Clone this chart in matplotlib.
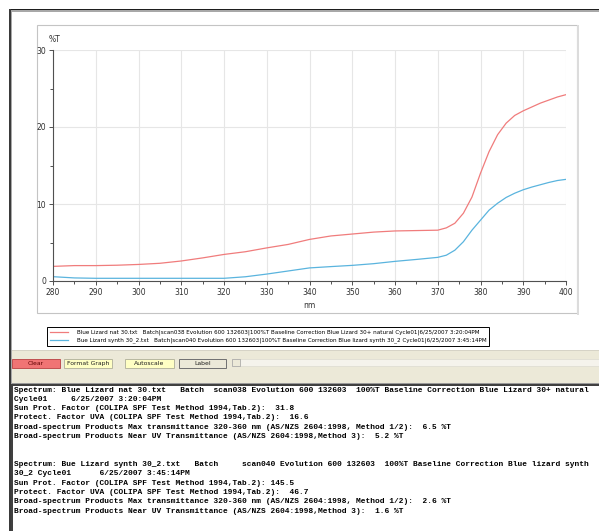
import matplotlib
matplotlib.use("Agg")
import matplotlib.pyplot as plt
from matplotlib.patches import Rectangle
from matplotlib import font_manager

W, H = 599, 531

# spectra (%T against wavelength)
wavelength_nm = [280, 285, 290, 295, 300, 305, 310, 315, 320, 325, 330, 335, 340,
                 345, 350, 355, 360, 365, 370, 372, 374, 376, 378, 380, 382, 384,
                 386, 388, 390, 392, 394, 396, 398, 400]
nat_30 = [1.9, 2.0, 2.0, 2.05, 2.15, 2.3, 2.6, 3.0, 3.45, 3.8, 4.3, 4.75, 5.4,
          5.85, 6.1, 6.35, 6.5, 6.55, 6.6, 6.9, 7.5, 8.8, 10.9, 14.0, 16.8, 19.0,
          20.5, 21.5, 22.1, 22.6, 23.1, 23.5, 23.9, 24.2]
synth_30_2 = [0.56, 0.4, 0.35, 0.35, 0.35, 0.35, 0.35, 0.35, 0.35, 0.55, 0.9, 1.3, 1.7,
              1.87, 2.03, 2.25, 2.55, 2.8, 3.07, 3.35, 4.0, 5.1, 6.6, 7.9, 9.2, 10.1,
              10.85, 11.4, 11.85, 12.2, 12.5, 12.8, 13.05, 13.2]

series_labels = [
    "Blue Lizard nat 30.txt   Batch|scan038 Evolution 600 132603|100%T Baseline Correction Blue Lizard 30+ natural Cycle01|6/25/2007 3:20:04PM",
    "Bue Lizard synth 30_2.txt   Batch|scan040 Evolution 600 132603|100%T Baseline Correction Blue lizard synth 30_2 Cycle01|6/25/2007 3:45:14PM",
]
series_colors = ["#F07C7C", "#5AB4DE"]

x_ticks = list(range(280, 401, 10))
y_ticks = [0, 10, 20, 30]

button_labels = ["Clear", "Format Graph", "Autoscale", "Label"]

report_lines = [
    "Spectrum: Blue Lizard nat 30.txt   Batch  scan038 Evolution 600 132603  100%T Baseline Correction Blue Lizard 30+ natural",
    "Cycle01     6/25/2007 3:20:04PM",
    "Sun Prot. Factor (COLIPA SPF Test Method 1994,Tab.2):  31.8",
    "Protect. Factor UVA (COLIPA SPF Test Method 1994,Tab.2):  16.6",
    "Broad-spectrum Products Max transmittance 320-360 nm (AS/NZS 2604:1998, Method 1/2):  6.5 %T",
    "Broad-spectrum Products Near UV Transmittance (AS/NZS 2604:1998,Method 3):  5.2 %T",
    "",
    "",
    "Spectrum: Bue Lizard synth 30_2.txt   Batch     scan040 Evolution 600 132603  100%T Baseline Correction Blue lizard synth",
    "30_2 Cycle01      6/25/2007 3:45:14PM",
    "Sun Prot. Factor (COLIPA SPF Test Method 1994,Tab.2): 145.5",
    "Protect. Factor UVA (COLIPA SPF Test Method 1994,Tab.2):  46.7",
    "Broad-spectrum Products Max transmittance 320-360 nm (AS/NZS 2604:1998, Method 1/2):  2.6 %T",
    "Broad-spectrum Products Near UV Transmittance (AS/NZS 2604:1998,Method 3):  1.6 %T",
]

installed = {f.name for f in font_manager.fontManager.ttflist}
NARROW = "Liberation Sans Narrow" if "Liberation Sans Narrow" in installed else "DejaVu Sans"
MONO = "Liberation Mono" if "Liberation Mono" in installed else "DejaVu Sans Mono"
# narrow face is not always there; shrink the small UI text if it is missing
small = 5.0 if NARROW == "Liberation Sans Narrow" else 4.1

fig = plt.figure(figsize=(W / 100, H / 100), dpi=100)
fig.patch.set_facecolor("white")


def fx(x):
    return x / W


def fy(y):
    return 1 - y / H


def box(x0, y0, x1, y1, face, edge="none", lw=0.0, z=0):
    r = Rectangle((fx(x0), fy(y1)), (x1 - x0) / W, (y1 - y0) / H,
                  transform=fig.transFigure, facecolor=face, edgecolor=edge,
                  linewidth=lw, zorder=z)
    fig.add_artist(r)
    return r


# window frame
box(9, 9, 599, 10.5, "#1E1E1E")
box(9, 10.5, 599, 12, "#A8A8A8")
box(9, 9, 10.5, 531, "#3A3A3A")
box(10.5, 10.5, 12, 531, "#A8A8A8")

# chart panel
box(37, 25, 577, 313, "white", edge="#C4C4C4", lw=0.8)
box(577, 25, 579, 315, "#DCDCDC")

ax = fig.add_axes([fx(53), fy(281), (566 - 53) / W, (281 - 50) / H])
ax.set_facecolor("white")
handles = []
for ys, lab, col in zip([nat_30, synth_30_2], series_labels, series_colors):
    h, = ax.plot(wavelength_nm, ys, color=col, lw=0.9, label=lab)
    handles.append(h)

ax.set_xlim(280, 400)
ax.set_ylim(0, 30)
ax.set_xticks(x_ticks)
ax.set_xticks(range(285, 400, 10), minor=True)
ax.set_yticks(y_ticks)
ax.set_yticks([5, 15, 25], minor=True)
ax.grid(True, which="major", color="#E6E6E6", lw=0.8, zorder=0)
ax.set_axisbelow(True)
for s in ["top", "right"]:
    ax.spines[s].set_visible(False)
for s in ["left", "bottom"]:
    ax.spines[s].set_color("#505050")
    ax.spines[s].set_linewidth(0.8)
ax.tick_params(which="both", direction="out", length=3, width=0.7,
               color="#505050", labelsize=5.5, pad=2, labelcolor="#303030")
ax.tick_params(which="minor", length=2.5)
for lbl in ax.get_xticklabels() + ax.get_yticklabels():
    lbl.set_family(NARROW)
ax.set_xlabel("nm", fontsize=5.5, family=NARROW, color="#303030", labelpad=3)
fig.text(fx(49), fy(39), "%T", fontsize=5.5, family=NARROW, color="#303030",
         ha="left", va="center")

px_per_em = small * 100 / 72
leg = fig.legend(handles=handles, loc="upper left",
                 bbox_to_anchor=(fx(47), fy(327)), bbox_transform=fig.transFigure,
                 prop={"family": NARROW, "size": small}, frameon=True, fancybox=False,
                 edgecolor="black", framealpha=1, borderpad=0.5, labelspacing=0.4,
                 handlelength=18 / px_per_em, handletextpad=9 / px_per_em,
                 borderaxespad=0)
leg.get_frame().set_linewidth(0.7)

# toolbar strip
box(12, 350, 599, 383, "#ECE9D8")
box(12, 350, 599, 350.8, "#D6D3C6")
button_spans = [(12, 60), (64, 112), (125, 174), (179, 226)]
button_faces = ["#F07474", "#FFFFC4", "#FFFFC4", "#ECE9D8"]
button_edges = ["#C05050", "#B8B8A0", "#B8B8A0", "#707070"]
text_colors = ["#600000", "#202020", "#202020", "#202020"]
for (x0, x1), lab, fc, ec, tc in zip(button_spans, button_labels,
                                     button_faces, button_edges, text_colors):
    box(x0, 359, x1, 368, fc, edge=ec, lw=0.7)
    fig.text(fx((x0 + x1) / 2), fy(363.5), lab, fontsize=small + 0.3, family=NARROW,
             color=tc, ha="center", va="center")
box(232, 359, 599, 366, "#F5F3EC", edge="#DDDAD0", lw=0.5)
box(232, 359, 240, 366, "#ECE9D8", edge="#A0A0A0", lw=0.5)

# report panel
box(12, 385, 599, 531, "white")
box(12, 382.5, 599, 384, "#9A9A9A")
box(12, 384, 599, 385.5, "#404040")
box(11, 384, 12.5, 531, "#404040")

for i, line in enumerate(report_lines):
    if line:
        fig.text(fx(14), fy(390 + i * 9.33), line, family=MONO, weight="bold",
                 fontsize=5.7, color="black", ha="left", va="center")

fig.savefig("out.png", dpi=100)
